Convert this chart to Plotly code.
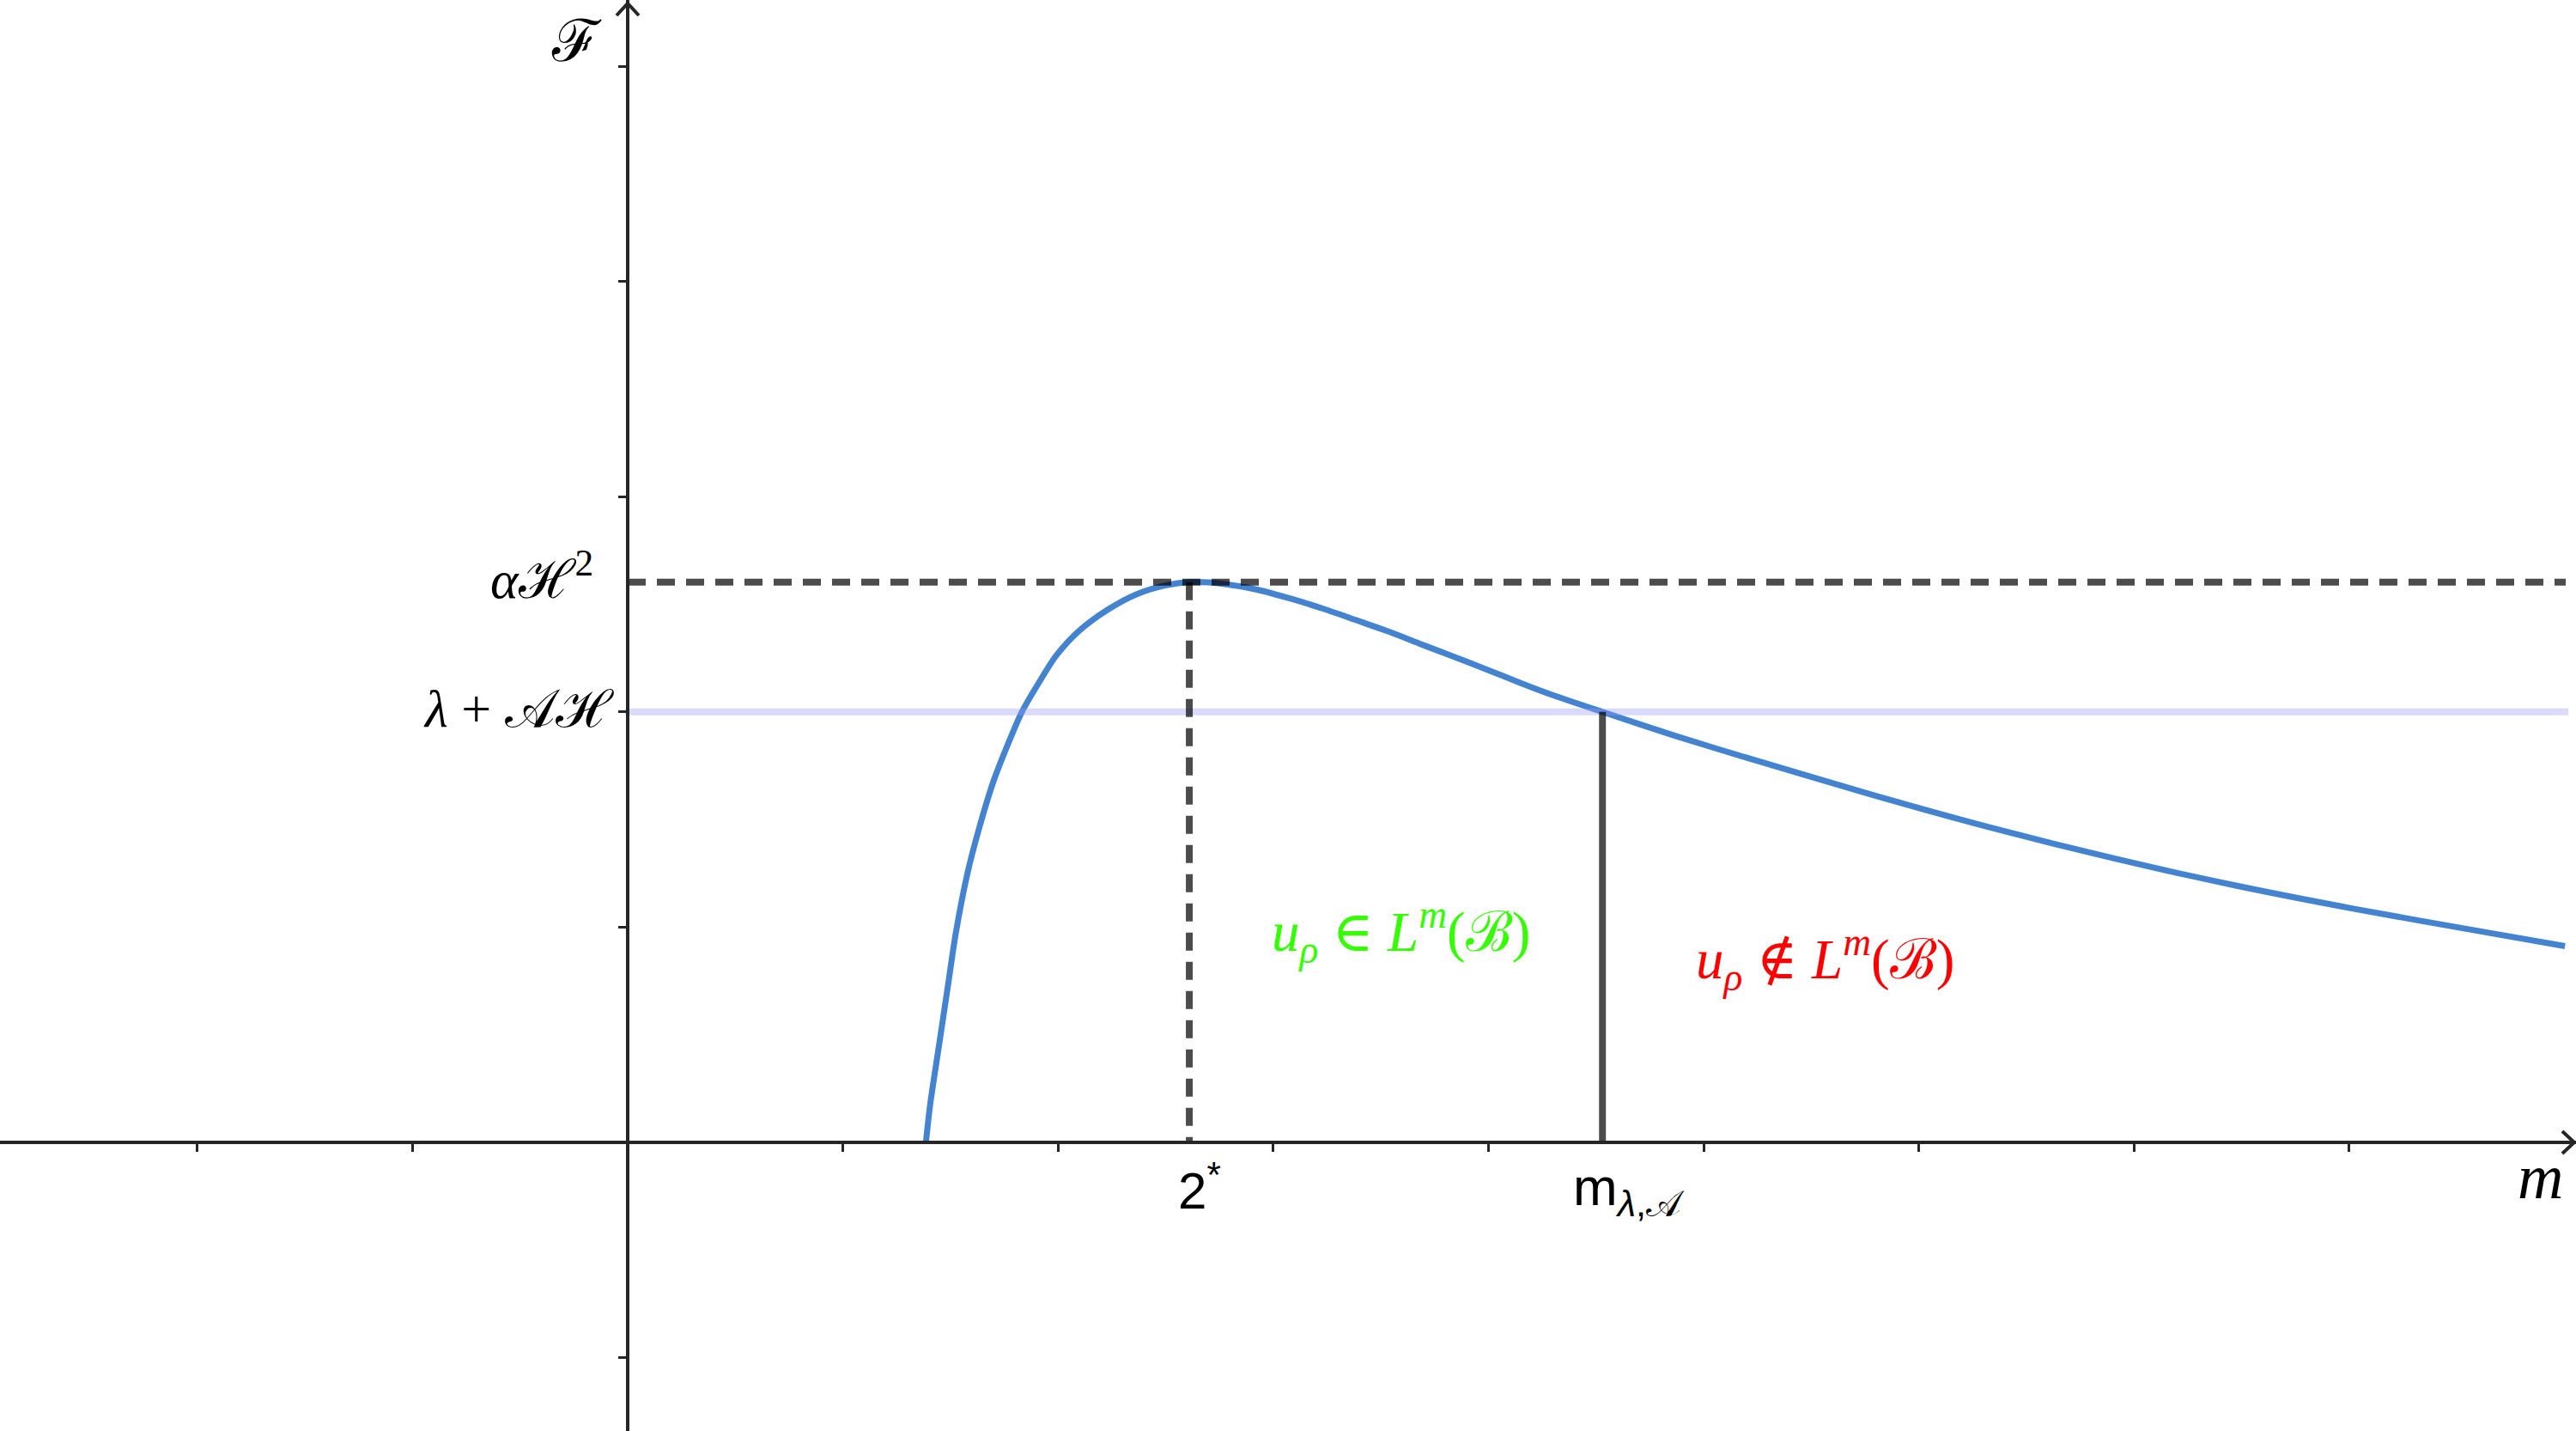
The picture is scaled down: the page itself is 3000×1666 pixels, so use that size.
import plotly.graph_objects as go

# ---------------- data ----------------
m_vals = [1.386, 1.406, 1.446, 1.486, 1.526, 1.579, 1.632, 1.699, 1.765, 1.832, 1.911,
          1.991, 2.098, 2.231, 2.364, 2.497, 2.61,
          2.775, 2.929, 3.081, 3.233, 3.386, 3.539, 3.693, 3.846, 3.997, 4.150, 4.302,
          4.53, 4.864, 5.224, 5.784, 6.344, 6.904, 7.464, 8.024, 8.584, 9.003]
F_vals = [0.0, 0.178, 0.445, 0.712, 0.979, 1.25, 1.455, 1.675, 1.845, 2.0, 2.136,
          2.261, 2.377, 2.475, 2.546, 2.587, 2.603,
          2.594, 2.567, 2.526, 2.479, 2.426, 2.372, 2.312, 2.254, 2.195, 2.134, 2.077,
          2.0, 1.89, 1.78, 1.615, 1.46, 1.32, 1.195, 1.085, 0.985, 0.912]

peak_m = 2.61        # 2*
peak_F = 2.603       # alpha H^2
level_F = 2.0        # lambda + A H
cross_m = 4.53       # m_{lambda,A}

x_ticks = [-2, -1, 1, 2, 3, 4, 5, 6, 7, 8]
y_ticks = [-1, 1, 2, 3, 4, 5]

# ---------------- layout geometry ----------------
W, H = 3000, 1666
UNIT = 250.6
ORIGIN_PX = (731, 1330)
x_min = -ORIGIN_PX[0] / UNIT
x_max = (W - ORIGIN_PX[0]) / UNIT
y_min = -(H - ORIGIN_PX[1]) / UNIT
y_max = ORIGIN_PX[1] / UNIT
px = 1.0 / UNIT

AXIS_COL = "#262626"
DARK = "rgba(0,0,0,0.7)"
BLUE = "#4483cf"
LIGHT = "rgba(153,153,255,0.36)"
SERIF = "Liberation Serif, DejaVu Serif, serif"
SANS = "Liberation Sans, Arial, sans-serif"

fig = go.Figure()

# main curve
fig.add_trace(go.Scatter(x=m_vals, y=F_vals, mode="lines",
                         line=dict(color=BLUE, width=7, shape="spline", smoothing=0.8),
                         hoverinfo="skip"))
# level line lambda + A H
fig.add_trace(go.Scatter(x=[-3 * px, x_max - 9 * px], y=[level_F, level_F], mode="lines",
                         line=dict(color=LIGHT, width=8), hoverinfo="skip"))
# dashed horizontal at peak
fig.add_trace(go.Scatter(x=[0, x_max - 12 * px], y=[peak_F, peak_F], mode="lines",
                         line=dict(color=DARK, width=8, dash="21px,13px"), hoverinfo="skip"))
# dashed vertical at 2*
fig.add_trace(go.Scatter(x=[peak_m, peak_m], y=[peak_F, 0], mode="lines",
                         line=dict(color=DARK, width=8, dash="21px,13px"), hoverinfo="skip"))
# solid vertical at m_{lambda,A}
fig.add_trace(go.Scatter(x=[cross_m, cross_m], y=[level_F, 0], mode="lines",
                         line=dict(color=DARK, width=8), hoverinfo="skip"))

# axis arrow heads (open chevrons)
tipx = x_max - 2 * px
fig.add_trace(go.Scatter(x=[tipx - 14 * px, tipx, tipx - 14 * px],
                         y=[13 * px, 0, -13 * px], mode="lines",
                         line=dict(color=AXIS_COL, width=4), hoverinfo="skip"))
tipy = y_max - 4 * px
fig.add_trace(go.Scatter(x=[-13 * px, 0, 13 * px],
                         y=[tipy - 14 * px, tipy, tipy - 14 * px], mode="lines",
                         line=dict(color=AXIS_COL, width=4), hoverinfo="skip"))

ann = []
def add(text, x, y, xref="x", yref="y", xanchor="center", yanchor="middle",
        xshift=0, yshift=0, size=58, family=SERIF, color="black"):
    ann.append(dict(text=text, x=x, y=y, xref=xref, yref=yref, xanchor=xanchor,
                    yanchor=yanchor, xshift=xshift, yshift=yshift, showarrow=False,
                    font=dict(size=size, family=family, color=color)))

add("ℱ", 0, y_max, xshift=-60, yshift=-48, size=68)
add("<i>α</i>ℋ<sup>2</sup>", 0, peak_F, xanchor="right", xshift=-38, yshift=8, size=62)
add("<i>λ</i> + 𝒜ℋ", 0, level_F, xanchor="right", xshift=-14, yshift=4, size=62)
add("<i>m</i>", x_max, 0, xanchor="center", xshift=-42, yshift=-40, size=74)
add("2<sup>*</sup>", peak_m, 0, xshift=12, yshift=-52, size=60, family=SANS)
add("m<sub><i>λ</i>,𝒜</sub>", cross_m, 0, xanchor="left", xshift=-36, yshift=-56,
    size=62, family=SANS)
add("<i>u</i><sub><i>ρ</i></sub> ∈ <i>L</i><sup><i>m</i></sup>(ℬ)", 1631 / W, 1 - 1085 / H,
    xref="paper", yref="paper", size=65, color="#33ff00")
add("<i>u</i><sub><i>ρ</i></sub> ∉ <i>L</i><sup><i>m</i></sup>(ℬ)", 2125 / W, 1 - 1117 / H,
    xref="paper", yref="paper", size=65, color="#ff0000")

fig.update_layout(
    width=W, height=H, margin=dict(l=0, r=0, t=0, b=0),
    paper_bgcolor="white", plot_bgcolor="white", showlegend=False,
    annotations=ann,
    xaxis=dict(range=[x_min, x_max], anchor="free",
               position=(0 - y_min) / (y_max - y_min),
               showline=True, linecolor=AXIS_COL, linewidth=4,
               ticks="outside", tickvals=x_ticks, ticklen=9, tickwidth=3,
               tickcolor=AXIS_COL, showticklabels=False, showgrid=False,
               zeroline=False, fixedrange=True),
    yaxis=dict(range=[y_min, y_max], anchor="free",
               position=(0 - x_min) / (x_max - x_min),
               showline=True, linecolor=AXIS_COL, linewidth=4,
               ticks="outside", tickvals=y_ticks, ticklen=9, tickwidth=3,
               tickcolor=AXIS_COL, showticklabels=False, showgrid=False,
               zeroline=False, fixedrange=True),
)

fig.write_html("out.html", config={"displayModeBar": False},
               post_script="document.body.style.margin='0';document.body.style.overflow='hidden';")
